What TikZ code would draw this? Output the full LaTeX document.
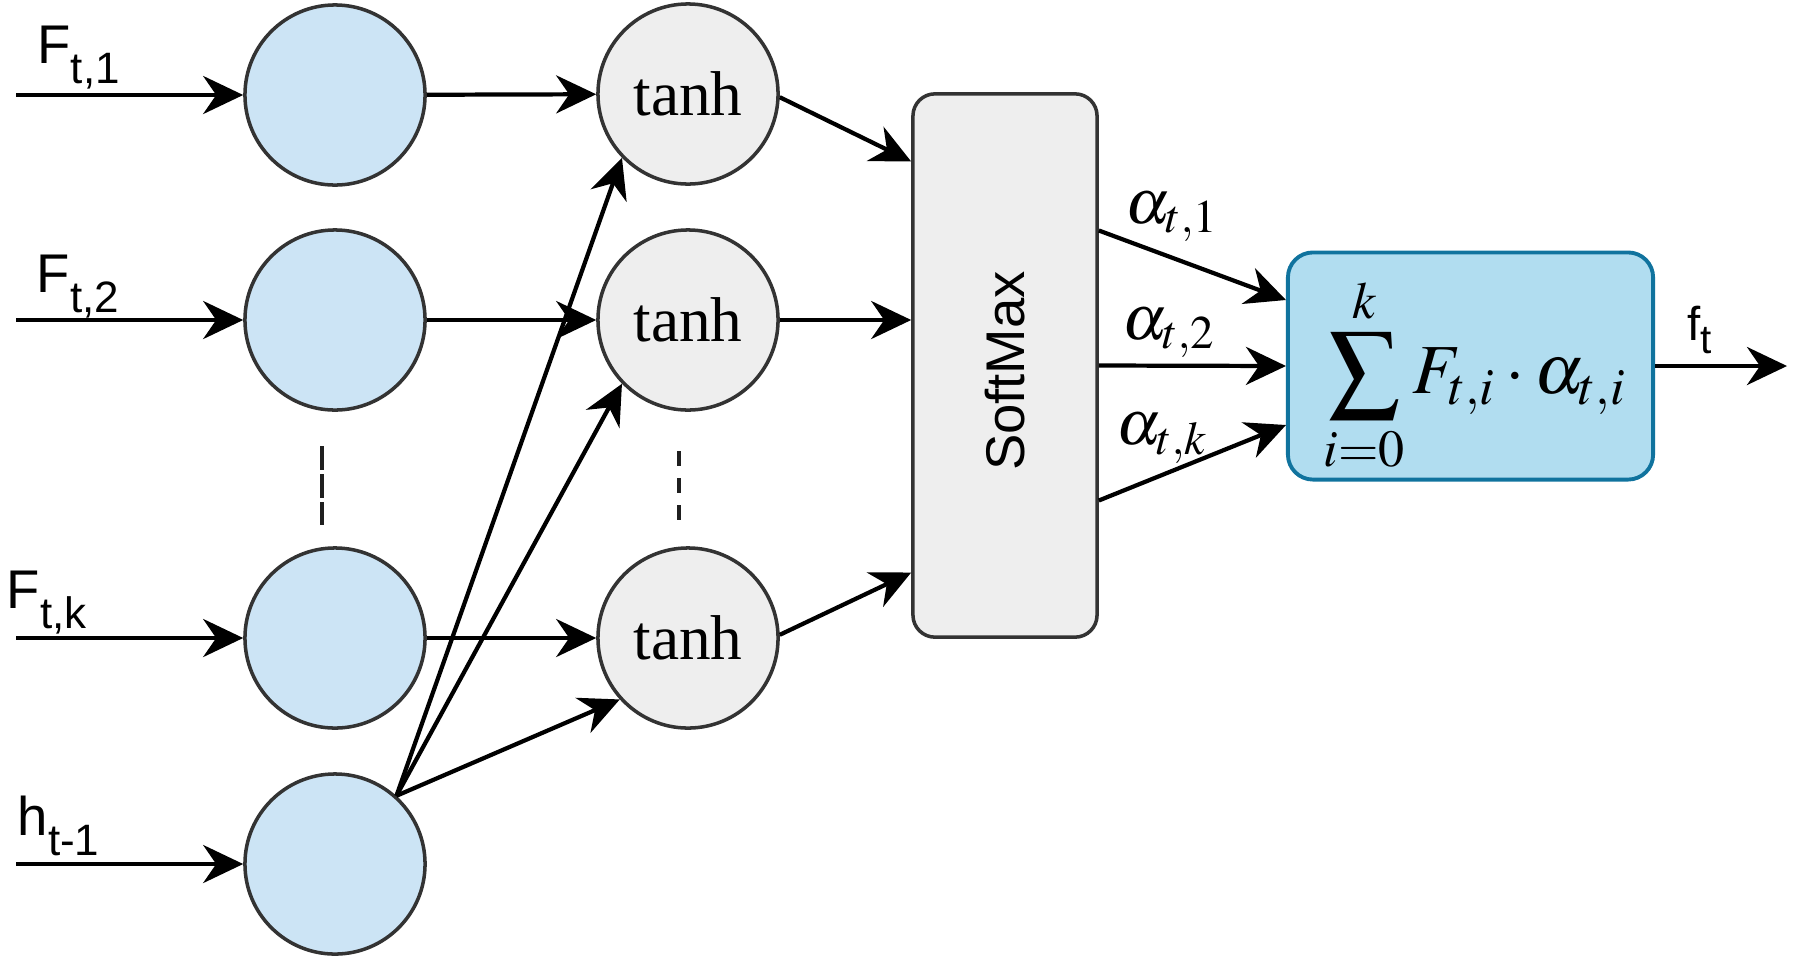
\documentclass[tikz,border=0pt]{standalone}
\usepackage{mathptmx}
\usepackage[no-math]{fontspec}
\newfontfamily\sansf{Liberation Sans}
\newfontfamily\seriff{Liberation Serif}
\usetikzlibrary{arrows.meta,calc}
\definecolor{bluefill}{HTML}{CCE4F5}
\definecolor{grayfill}{HTML}{EEEEEE}
\definecolor{edgec}{HTML}{333333}
\definecolor{sumfill}{HTML}{B1DDF0}
\definecolor{sumedge}{HTML}{10739E}
\newcommand\inlbl[2]{\sansf\fontsize{15.5}{17}\selectfont #1\raisebox{-0.2cm}{\fontsize{12.5}{14}\selectfont #2}}
\tikzset{
 inp/.style={circle, draw=edgec, fill=bluefill, line width=1pt, minimum size=1.8cm, inner sep=0pt},
 act/.style={circle, draw=edgec, fill=grayfill, line width=1pt, minimum size=1.8cm, inner sep=0pt, font=\seriff\fontsize{18}{20}\selectfont},
 arr/.style={line width=1.2pt, -{Stealth[length=0.4cm,width=0.38cm,inset=0.13cm]}},
 lbl/.style={anchor=base west, inner sep=0pt},
 mlbl/.style={anchor=base west, inner sep=0pt, font=\fontsize{18}{20}\selectfont},
 dots/.style={line width=1.2pt, edgec!60!black},
}
\begin{document}
\begin{tikzpicture}[x=0.01cm,y=-0.01cm]
\useasboundingbox (0,0) rectangle (1795,957);
% input neurons
\node[inp] (b1) at (335,95) {};
\node[inp] (b2) at (335,320) {};
\node[inp] (bk) at (335,638) {};
\node[inp] (bh) at (335,864) {};
% tanh neurons
\node[act] (t1) at (688,94) {tanh};
\node[act] (t2) at (688,320) {tanh};
\node[act] (t3) at (688,638) {tanh};
% softmax
\node[draw=edgec, fill=grayfill, line width=1pt, rounded corners=0.22cm, minimum width=1.84cm, minimum height=5.43cm, inner sep=0pt] (sm) at (1005,365.5) {};
\node[rotate=90, inner sep=0pt, font=\sansf\fontsize{15.5}{17}\selectfont] (smtxt) at (1005,371) {SoftMax};
% sum box
\node[draw=sumedge, fill=sumfill, line width=1.1pt, rounded corners=0.25cm, minimum width=3.65cm, minimum height=2.27cm, inner sep=0pt] (sum) at (1470.5,366) {};
\node[inner sep=0pt, font=\fontsize{20}{22}\selectfont] (formula) at (1475,375) {$\displaystyle\sum_{i=0}^{k}F_{t,i}\cdot\alpha_{t,i}$};
% coordinates
\coordinate (in1) at (16,95);
\coordinate (in2) at (16,320);
\coordinate (ink) at (16,638);
\coordinate (inh) at (16,864);
\coordinate (hp) at (bh.48);
\path (sm.west) ++(0,-204) coordinate (s1);
\path (sm.west) ++(0,207) coordinate (s3);
\path (sm.east) ++(0,-135) coordinate (a1s);
\path (sm.east) ++(0,135) coordinate (aks);
\path (sum.west) ++(0,-66) coordinate (a1e);
\path (sum.west) ++(0,59) coordinate (ake);
\coordinate (out) at (1787,366);
% input arrows
\draw[arr] (in1) -- (b1);
\draw[arr] (in2) -- (b2);
\draw[arr] (ink) -- (bk);
\draw[arr] (inh) -- (bh);
% neuron to tanh
\draw[arr] (b1) -- (t1);
\draw[arr] (b2) -- (t2);
\draw[arr] (bk) -- (t3);
\draw[arr] (hp) -- (t1.224);
\draw[arr] (hp) -- (t2.224);
\draw[arr] (hp) -- (t3.222);
% tanh to softmax
\draw[arr] (t1.-2) -- (s1);
\draw[arr] (t2.east) -- (t2.east -| sm.west);
\draw[arr] (t3.2) -- (s3);
% softmax to sum
\draw[arr] (a1s) -- (a1e);
\draw[arr] (sm.east) -- (sum.west);
\draw[arr] (aks) -- (ake);
\draw[arr] (sum.east) -- (out);
% dashed continuation marks
\draw[dots, dash pattern=on 0.235cm off 0.045cm] (322,446) -- (322,525);
\draw[dots, dash pattern=on 0.15cm off 0.12cm] (679,451) -- (679,521);
% labels
\node[lbl] (lF1) at (37,63) {\inlbl{F}{t,1}};
\node[lbl] (lF2) at (36,292) {\inlbl{F}{t,2}};
\node[lbl] (lFk) at (6,608) {\inlbl{F}{t,k}};
\node[lbl] (lh) at (17,835) {\inlbl{h}{t-1}};
\node[lbl] (lf) at (1687,340) {\sansf\fontsize{13.5}{15}\selectfont f\raisebox{-0.13cm}{\fontsize{11.5}{13}\selectfont t}};
\node[mlbl] (la1) at (1125,223) {$\alpha_{t,1}$};
\node[mlbl] (la2) at (1122,339) {$\alpha_{t,2}$};
\node[mlbl] (lak) at (1116,444) {$\alpha_{t,k}$};
\end{tikzpicture}
\end{document}
